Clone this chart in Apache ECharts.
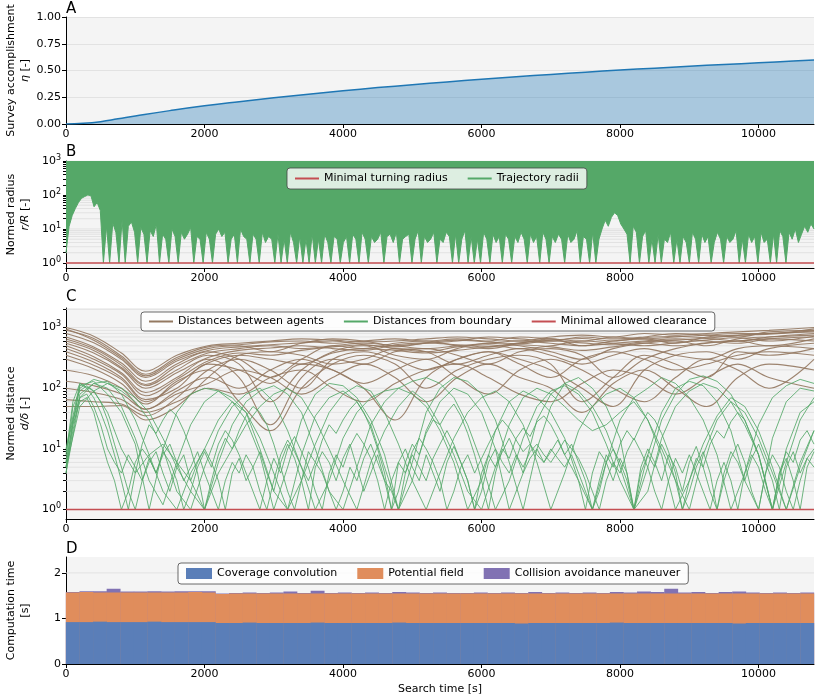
<!DOCTYPE html>
<html><head><meta charset="utf-8">
<script src="https://cdn.jsdelivr.net/npm/echarts@6/dist/echarts.min.js"></script>
<style>html,body{margin:0;padding:0;background:#fff}#c{width:831px;height:699px}</style>
</head><body><div id="c"></div>
<script>
const FONT = 'DejaVu Sans';
const tMax = 10800;
const xTickStep = 2000;
const xTicks = [0,2000,4000,6000,8000,10000];

// ---------- Panel A: survey accomplishment ----------
const surveyTime = [0,250,500,750,1000,1500,2000,2500,3000,3500,4000,4500,5000,5500,6000,6500,7000,7500,8000,8500,9000,9500,10000,10500,10800];
const surveyEta = [0,0.006,0.022,0.048,0.075,0.125,0.170,0.209,0.245,0.279,0.310,0.340,0.367,0.393,0.418,0.441,0.463,0.484,0.504,0.522,0.540,0.556,0.572,0.588,0.597];

// ---------- Panel B: trajectory radii (lower edge of the dense band, every 45 s) ----------
const radiusStep = 45;
const radiusLow = [
 2,12,25,40,60,80,90,100,95,45,
 60,35,1,12,1,15,8,1,18,1,
 12,16,8,1,11,7,1,9,6,14,
 1,7,5,1,10,6,1,8,5,7,
 11,1,6,5,1,8,5,1,7,10,
 6,8,1,5,7,1,10,6,5,1,
 7,5,1,8,4,6,5,1,7,1,
 5,1,8,4,1,6,1,5,1,7,
 1,5,1,7,4,1,6,5,1,4,
 6,1,7,5,1,8,5,1,6,4,
 5,8,1,6,7,4,8,1,5,6,
 7,1,5,9,1,6,4,5,8,1,
 5,4,8,6,1,7,1,5,9,1,
 6,1,5,1,8,5,1,7,4,6,
 1,7,5,1,6,4,8,5,1,7,
 4,6,1,8,5,1,6,4,7,5,
 1,7,4,5,9,1,6,5,1,8,
 1,5,10,18,12,22,30,25,14,10,
 7,1,12,8,1,6,9,1,5,1,
 7,1,5,4,8,1,5,1,6,4,
 1,8,5,1,7,4,6,1,4,8,
 5,1,6,4,5,9,1,5,1,7,
 4,6,1,8,4,5,1,7,1,9,
 6,1,8,5,10,4,7,12,8,14,
 10];
const minTurningRadius = 1;

// ---------- Panel C: distances ----------
const agentTime = [0,400,800,1150,1600,2050,2500,2950,3400,3850,4300,4750,5200,5650,6100,6550,7000,7450,7900,8350,8800,9250,9700,10150,10800];
const agent01 = [1000,720,380,190,350,500,550,600,650,620,580,600,650,700,650,600,700,750,700,800,750,800,850,900,1000];
const agent02 = [950,620,320,160,300,450,500,400,550,650,600,500,550,600,700,650,600,700,650,700,800,750,700,850,900];
const agent03 = [700,480,260,130,250,400,300,150,300,500,450,550,600,500,450,550,650,500,600,650,550,700,750,800,850];
const agent04 = [600,420,220,110,200,350,250,60,200,400,500,350,300,450,550,500,400,300,450,550,600,500,650,700,750];
const agent05 = [500,330,180,85,150,300,150,25,150,300,250,400,450,350,250,400,450,350,150,300,450,550,600,500,650];
const agent06 = [400,270,150,65,100,250,200,120,250,200,100,30,150,300,400,300,200,100,50,200,350,400,300,450,550];
const agent07 = [300,210,120,55,130,200,60,20,100,250,350,250,100,200,300,350,250,60,150,350,250,150,400,350,450];
const agent08 = [200,160,100,45,90,150,100,200,300,200,120,200,300,150,80,200,300,200,100,60,150,300,200,100,300];
const agent09 = [130,110,80,45,80,120,200,150,80,150,250,150,60,150,250,150,100,40,120,200,100,50,150,250,200];
const agent10 = [100,85,65,40,60,100,80,150,200,100,60,120,200,250,150,80,60,120,200,150,80,150,250,150,100];
const agent11 = [65,60,55,35,70,200,300,200,100,300,400,300,200,300,400,250,150,300,400,300,200,250,350,400,350];
const agent12 = [50,50,52,30,50,150,350,400,350,250,300,450,400,250,350,450,350,250,350,450,350,300,450,500,450];
const agent13 = [900,660,340,170,320,480,520,580,600,550,600,650,600,650,600,700,650,600,700,650,700,750,800,800,950];
const agent14 = [650,450,240,115,230,380,450,500,450,500,550,500,450,500,550,600,550,500,550,600,650,600,550,650,700];
const agent15 = [800,560,300,150,280,420,480,520,560,600,520,480,560,620,580,540,620,660,600,680,720,680,740,780,880];
const agent16 = [550,380,210,100,180,320,420,460,500,450,420,520,560,520,480,560,600,560,520,580,620,660,600,700,800];
const agent17 = [450,300,170,75,140,280,380,350,420,480,520,450,400,480,520,450,500,600,550,500,560,620,680,600,720];
const agent18 = [350,240,140,60,120,260,350,300,250,380,450,420,380,420,480,520,480,420,480,550,500,560,600,650,600];
const agentDistances = [agent01,agent02,agent03,agent04,agent05,agent06,agent07,agent08,agent09,agent10,agent11,agent12,agent13,agent14,agent15,agent16,agent17,agent18];

// boundary distances, coarse sampling (every 200 s)
const boundaryStepCoarse = 200;
const boundaryA = [6,110,130,80,40,12,1,10,40,80,100,90,60,30,8,1,5,30,80,120,110,70,30,8,1,6,40,100,150,130,80,30,6,1,10,50,120,150,100,50,15,1,8,40,100,130,110,60,20,3,1,15,60,100,90];
const boundaryB = [5,80,120,100,50,15,3,1.2,6,25,60,90,70,40,10,2,1,8,35,70,90,60,25,5,1,3,20,60,100,80,40,10,1,4,30,80,120,90,50,20,5,1,2,15,50,90,120,100,60,25,8,1,10,40,60];
const boundaryC = [9,100,140,120,90,60,30,10,2,1,5,20,50,80,100,60,20,5,1,3,15,40,70,90,100,80,50,20,6,1,3,20,60,90,70,40,15,3,1,6,30,70,100,150,120,70,30,8,1,4,25,70,110,140,120];
const boundaryD = [5,50,90,120,100,70,40,15,5,2,1,6,25,60,90,110,80,40,10,2,1,5,25,60,100,130,150,120,70,25,6,1,3,15,50,90,110,80,40,12,3,1,5,30,80,140,160,130,80,30,8,1,6,30,70];
const boundaryE = [10,120,90,40,10,4,8,12,6,3,1,4,10,25,50,80,100,70,30,10,3,1,6,20,50,90,60,25,8,2,1,5,25,70,100,80,50,30,20,25,40,60,30,10,3,1,8,30,60,40,15,4,1,5,20];
const boundaryF = [4,70,120,130,80,30,8,2,1,4,10,30,60,40,15,4,1,3,12,40,80,110,90,40,12,3,1,4,15,40,70,90,60,25,6,1,4,20,50,80,100,70,30,8,1,3,12,35,70,50,20,5,1,6,20];
const boundaryCoarse = [boundaryA,boundaryB,boundaryC,boundaryD,boundaryE,boundaryF];
// boundary distances, fine sampling (every 100 s)
const boundaryStepFine = 100;
const boundaryG = [5,30,70,80,50,25,10,6,4,8, 5,3,6,9,4,2,5,8,3,6, 10,6,3,1,4,7,3,5,9,4, 2,6,12,7,3,1,5,9,6,3, 7,12,5,2,4,8,3,1,6,10, 5,3,8,4,2,6,11,6,3,1, 4,8,5,9,15,8,4,7,10,6, 9,14,8,5,3,1,4,9,6,3, 7,4,1,5,10,6,3,8,5,2, 6,11,5,2,1,4,9,6,3,7, 12,6,3,1,5,9,4,7,10];
const boundaryH = [8,60,120,100,70,40,20,8,3,1, 4,12,25,18,30,45,35,20,10,4, 1,3,8,15,10,20,35,50,40,25, 12,5,2,1,3,9,6,14,25,18, 30,45,60,40,22,10,4,1,2,6, 12,8,18,30,25,40,55,35,18,8, 3,1,4,10,7,15,22,16,28,35, 25,15,8,12,6,3,1,3,8,5, 12,20,14,25,40,30,18,9,4,1, 3,7,5,12,20,15,28,40,30,16, 8,3,1,4,9,6,14,20,12];
const boundaryI = [6,50,90,110,90,60,30,12,5,2, 1,3,7,4,9,6,3,1,2,5, 9,5,12,20,14,8,4,2,1,3, 7,4,10,16,9,5,2,1,4,8, 5,11,18,12,7,3,1,3,6,4, 9,15,10,6,3,1,2,5,8,4, 7,12,20,30,22,14,9,12,8,6, 10,7,5,8,4,2,1,2,6,10, 6,3,1,4,8,5,12,7,3,1, 2,5,9,4,1,3,7,12,6,2, 1,4,8,5,2,1,3,7,5];
const boundaryJ = [4,25,60,70,40,15,6,3,1,2, 6,10,7,4,8,12,6,3,5,9, 4,2,1,3,6,4,8,5,2,1, 3,8,14,9,5,3,6,4,2,1, 2,5,3,7,12,6,3,2,1,4, 8,5,3,7,12,20,12,6,3,1, 2,6,10,6,4,8,5,9,12,8, 6,9,14,10,7,4,2,1,3,6, 4,9,15,9,5,2,1,3,7,4, 8,4,2,1,3,6,3,1,4,8, 5,2,1,4,7,3,1,5,9];
const boundaryFine = [boundaryG,boundaryH,boundaryI,boundaryJ];
const minClearance = 1;

// ---------- Panel D: computation time ----------
const coverageConvolution = [0.92,0.92,0.93,0.92,0.92,0.92,0.93,0.92,0.92,0.92,0.92,0.90,0.90,0.91,0.90,0.90,0.90,0.90,0.91,0.90,0.90,0.90,0.90,0.90,0.91,0.90,0.90,0.90,0.90,0.90,0.90,0.90,0.90,0.89,0.90,0.90,0.90,0.90,0.90,0.90,0.91,0.90,0.90,0.90,0.90,0.90,0.90,0.90,0.90,0.89,0.90,0.90,0.90,0.90,0.90];
const potentialField = [0.65,0.66,0.64,0.65,0.65,0.65,0.64,0.65,0.65,0.66,0.65,0.64,0.65,0.64,0.65,0.65,0.65,0.65,0.64,0.65,0.65,0.65,0.65,0.65,0.64,0.65,0.65,0.65,0.65,0.65,0.65,0.65,0.65,0.66,0.65,0.65,0.65,0.65,0.65,0.65,0.64,0.65,0.65,0.65,0.65,0.65,0.65,0.65,0.65,0.66,0.65,0.65,0.65,0.65,0.65];
const collisionAvoidance = [0.01,0.02,0.03,0.08,0.02,0.02,0.03,0.02,0.03,0.02,0.03,0.01,0.01,0.02,0.01,0.02,0.04,0.01,0.06,0.01,0.02,0.01,0.02,0.01,0.03,0.02,0.01,0.02,0.01,0.01,0.02,0.01,0.02,0.01,0.03,0.01,0.02,0.01,0.02,0.01,0.03,0.02,0.04,0.03,0.10,0.02,0.03,0.01,0.03,0.04,0.02,0.01,0.02,0.01,0.02];
const compStep = tMax / coverageConvolution.length;

// gridline / tick levels
const logMajor = [1,10,100,1000];
const logGridB = [1,2,3,4,5,6,7,8,9,10,20,30,40,50,60,70,80,90,100,200,300,400,500,600,700,800,900,1000];
const logGridC = logGridB.concat([2000]);
const linGridD = [1,2];

// ---------- helpers ----------
const BG = '#f4f4f4';
const GRIDC = '#dddddd';
function gridLines(vals){ const d=[]; vals.forEach(v=>{d.push([0,v]);d.push([tMax,v]);d.push([tMax,'-']);}); return d; }
function logLabel(v){ const e=Math.log10(v), r=Math.round(e); if(Math.abs(e-r)>1e-6) return ''; return '{b|10}{s|'+r+'}'; }
const richLog = {b:{fontSize:11,color:'#000',fontFamily:FONT}, s:{fontSize:8,color:'#000',fontFamily:FONT,padding:[0,0,7,0]}};
const nameRich = {a:{fontSize:11,color:'#000',fontFamily:FONT,lineHeight:14}, i:{fontSize:11,color:'#000',fontFamily:FONT,fontStyle:'italic',lineHeight:14}};

function xAxis(gi, extra){
  return Object.assign({type:'value', gridIndex:gi, min:0, max:tMax, interval:xTickStep,
    axisLine:{show:true,onZero:false,lineStyle:{color:'#000',width:1}},
    axisTick:{show:true,length:4,customValues:xTicks,lineStyle:{color:'#000'}},
    axisLabel:{color:'#000',fontSize:11,fontFamily:FONT,margin:5,customValues:xTicks,formatter:v=>String(v)},
    splitLine:{show:false}}, extra||{});
}
function yCommon(gi, name){
  return {gridIndex:gi, name:name, nameLocation:'middle', nameRotate:90, nameGap:34, nameMoveOverlap:false,
    nameTextStyle:{rich:nameRich, fontSize:11, fontFamily:FONT, color:'#000', lineHeight:14},
    axisLine:{show:true,lineStyle:{color:'#000',width:1}},
    axisTick:{show:true,length:4,lineStyle:{color:'#000'}}};
}

const GREEN = '#55a868', RED = '#c44e52', BROWN = '#937860';
const series = [];
// A
series.push({name:'eta', type:'line', xAxisIndex:0, yAxisIndex:0, data:surveyTime.map((t,i)=>[t,surveyEta[i]]),
  smooth:true, symbol:'none', lineStyle:{color:'#1f77b4',width:1.5}, areaStyle:{color:'rgba(31,119,180,0.5)'}, z:2});
// B
series.push({name:'gridB', type:'line', xAxisIndex:1, yAxisIndex:1, data:gridLines(logGridB), symbol:'none', silent:true,
  lineStyle:{color:GRIDC,width:0.8}, z:1});
series.push({name:'Trajectory radii', type:'line', xAxisIndex:1, yAxisIndex:1, data:radiusLow.map((v,i)=>[i*radiusStep,v]), symbol:'none',
  color:GREEN, lineStyle:{color:GREEN,width:1}, areaStyle:{origin:'end',color:GREEN,opacity:1}, z:2});
series.push({name:'Minimal turning radius', type:'line', xAxisIndex:1, yAxisIndex:1, data:[[0,minTurningRadius],[tMax,minTurningRadius]],
  symbol:'none', color:RED, lineStyle:{color:RED,width:1.5}, z:4});
// C
series.push({name:'gridC', type:'line', xAxisIndex:2, yAxisIndex:2, data:gridLines(logGridC), symbol:'none', silent:true,
  lineStyle:{color:GRIDC,width:0.8}, z:1});
agentDistances.forEach(arr=>{
  series.push({name:'Distances between agents', type:'line', xAxisIndex:2, yAxisIndex:2, data:agentTime.map((t,i)=>[t,arr[i]]),
    symbol:'none', smooth:0.35, color:BROWN, lineStyle:{color:BROWN,width:1.1,opacity:0.9}, z:2});
});
boundaryCoarse.forEach(arr=>{
  series.push({name:'Distances from boundary', type:'line', xAxisIndex:2, yAxisIndex:2, data:arr.map((v,i)=>[i*boundaryStepCoarse,v]),
    symbol:'none', color:GREEN, lineStyle:{color:GREEN,width:1,opacity:0.85}, z:3});
});
boundaryFine.forEach(arr=>{
  series.push({name:'Distances from boundary', type:'line', xAxisIndex:2, yAxisIndex:2, data:arr.map((v,i)=>[i*boundaryStepFine,v]),
    symbol:'none', color:GREEN, lineStyle:{color:GREEN,width:1,opacity:0.85}, z:3});
});
series.push({name:'Minimal allowed clearance', type:'line', xAxisIndex:2, yAxisIndex:2, data:[[0,minClearance],[tMax,minClearance]],
  symbol:'none', color:RED, lineStyle:{color:RED,width:1.5}, z:4});
// D (cumulative tops drawn as overlapping bars, back to front)
series.push({name:'gridD', type:'line', xAxisIndex:3, yAxisIndex:3, data:gridLines(linGridD), symbol:'none', silent:true,
  lineStyle:{color:GRIDC,width:0.8}, z:1});
const cumPot = coverageConvolution.map((v,i)=>v+potentialField[i]);
const cumAll = cumPot.map((v,i)=>v+collisionAvoidance[i]);
[['Collision avoidance maneuver',cumAll,'#8172b3',2],['Potential field',cumPot,'#e08d5c',3],['Coverage convolution',coverageConvolution,'#5a7eb8',4]].forEach(s=>{
  series.push({name:s[0], type:'bar', xAxisIndex:3, yAxisIndex:3, barWidth:13.9, barGap:'-100%', clip:true,
    data:s[1].map((v,i)=>[(i+0.5)*compStep,v]), color:s[2], itemStyle:{color:s[2]}, z:s[3]});
});

const legendBase = {orient:'horizontal', backgroundColor:'rgba(255,255,255,0.8)', borderColor:'#444', borderWidth:0.8, borderRadius:3,
  itemGap:20, itemWidth:24, itemHeight:2, icon:'rect', selectedMode:false, textStyle:{fontSize:11,fontFamily:FONT,color:'#000'}};

const gridBase = {left:66,right:17,show:true,backgroundColor:BG,borderWidth:0,containLabel:false,outerBoundsMode:'none'};
const option = {
  animation:false,
  backgroundColor:'#fff',
  textStyle:{fontFamily:FONT},
  title:[
    {text:'A', left:66, top:2, padding:0, textStyle:{fontSize:15,fontWeight:'normal',fontFamily:FONT,color:'#000'}},
    {text:'B', left:66, top:145, padding:0, textStyle:{fontSize:15,fontWeight:'normal',fontFamily:FONT,color:'#000'}},
    {text:'C', left:66, top:290, padding:0, textStyle:{fontSize:15,fontWeight:'normal',fontFamily:FONT,color:'#000'}},
    {text:'D', left:66, top:542, padding:0, textStyle:{fontSize:15,fontWeight:'normal',fontFamily:FONT,color:'#000'}}
  ],
  grid:[
    Object.assign({top:17,height:107}, gridBase),
    Object.assign({top:161,height:107}, gridBase),
    Object.assign({top:308,height:211}, gridBase),
    Object.assign({top:557,height:107}, gridBase)
  ],
  legend:[
    Object.assign({}, legendBase, {data:['Minimal turning radius','Trajectory radii'], left:287, top:168, padding:[5,8,5,8]}),
    Object.assign({}, legendBase, {data:['Distances between agents','Distances from boundary','Minimal allowed clearance'], left:141, top:312, padding:[4,8,4,8]}),
    Object.assign({}, legendBase, {data:['Coverage convolution','Potential field','Collision avoidance maneuver'], left:178, top:563, padding:[5,8,5,8], icon:'rect', itemWidth:26, itemHeight:11})
  ],
  xAxis:[ xAxis(0), xAxis(1), xAxis(2),
    xAxis(3,{name:'Search time [s]', nameLocation:'middle', nameGap:20, nameTextStyle:{fontSize:11,fontFamily:FONT,color:'#000'}}) ],
  yAxis:[
    Object.assign(yCommon(0,'{a|Survey accomplishment}\n{i|η} {a|[-]}'), {type:'value', min:0, max:1, interval:0.25,
      axisLabel:{color:'#000',fontSize:11,fontFamily:FONT,margin:5,formatter:v=>v.toFixed(2)},
      splitLine:{show:true,lineStyle:{color:GRIDC,width:0.8}}}),
    Object.assign(yCommon(1,'{a|Normed radius}\n{i|r/R} {a|[-]}'), {type:'log', logBase:10, min:0.71, max:1000,
      axisTick:{show:true,length:3,customValues:logGridB,lineStyle:{color:'#000'}},
      axisLabel:{formatter:logLabel, rich:richLog, margin:5, customValues:logMajor}, splitLine:{show:false}}),
    Object.assign(yCommon(2,'{a|Normed distance}\n{i|d/δ} {a|[-]}'), {type:'log', logBase:10, min:0.7, max:2100,
      axisTick:{show:true,length:3,customValues:logGridC,lineStyle:{color:'#000'}},
      axisLabel:{formatter:logLabel, rich:richLog, margin:5, customValues:logMajor}, splitLine:{show:false}}),
    Object.assign(yCommon(3,'{a|Computation time}\n{a|[s]}'), {type:'value', min:0, max:2.35, interval:1,
      axisTick:{show:true,length:4,customValues:[0,1,2],lineStyle:{color:'#000'}},
      axisLabel:{color:'#000',fontSize:11,fontFamily:FONT,margin:5,customValues:[0,1,2],formatter:v=>String(v)},
      splitLine:{show:false}})
  ],
  series:series
};
const chart = echarts.init(document.getElementById('c'));
chart.setOption(option);
</script>
</body></html>
